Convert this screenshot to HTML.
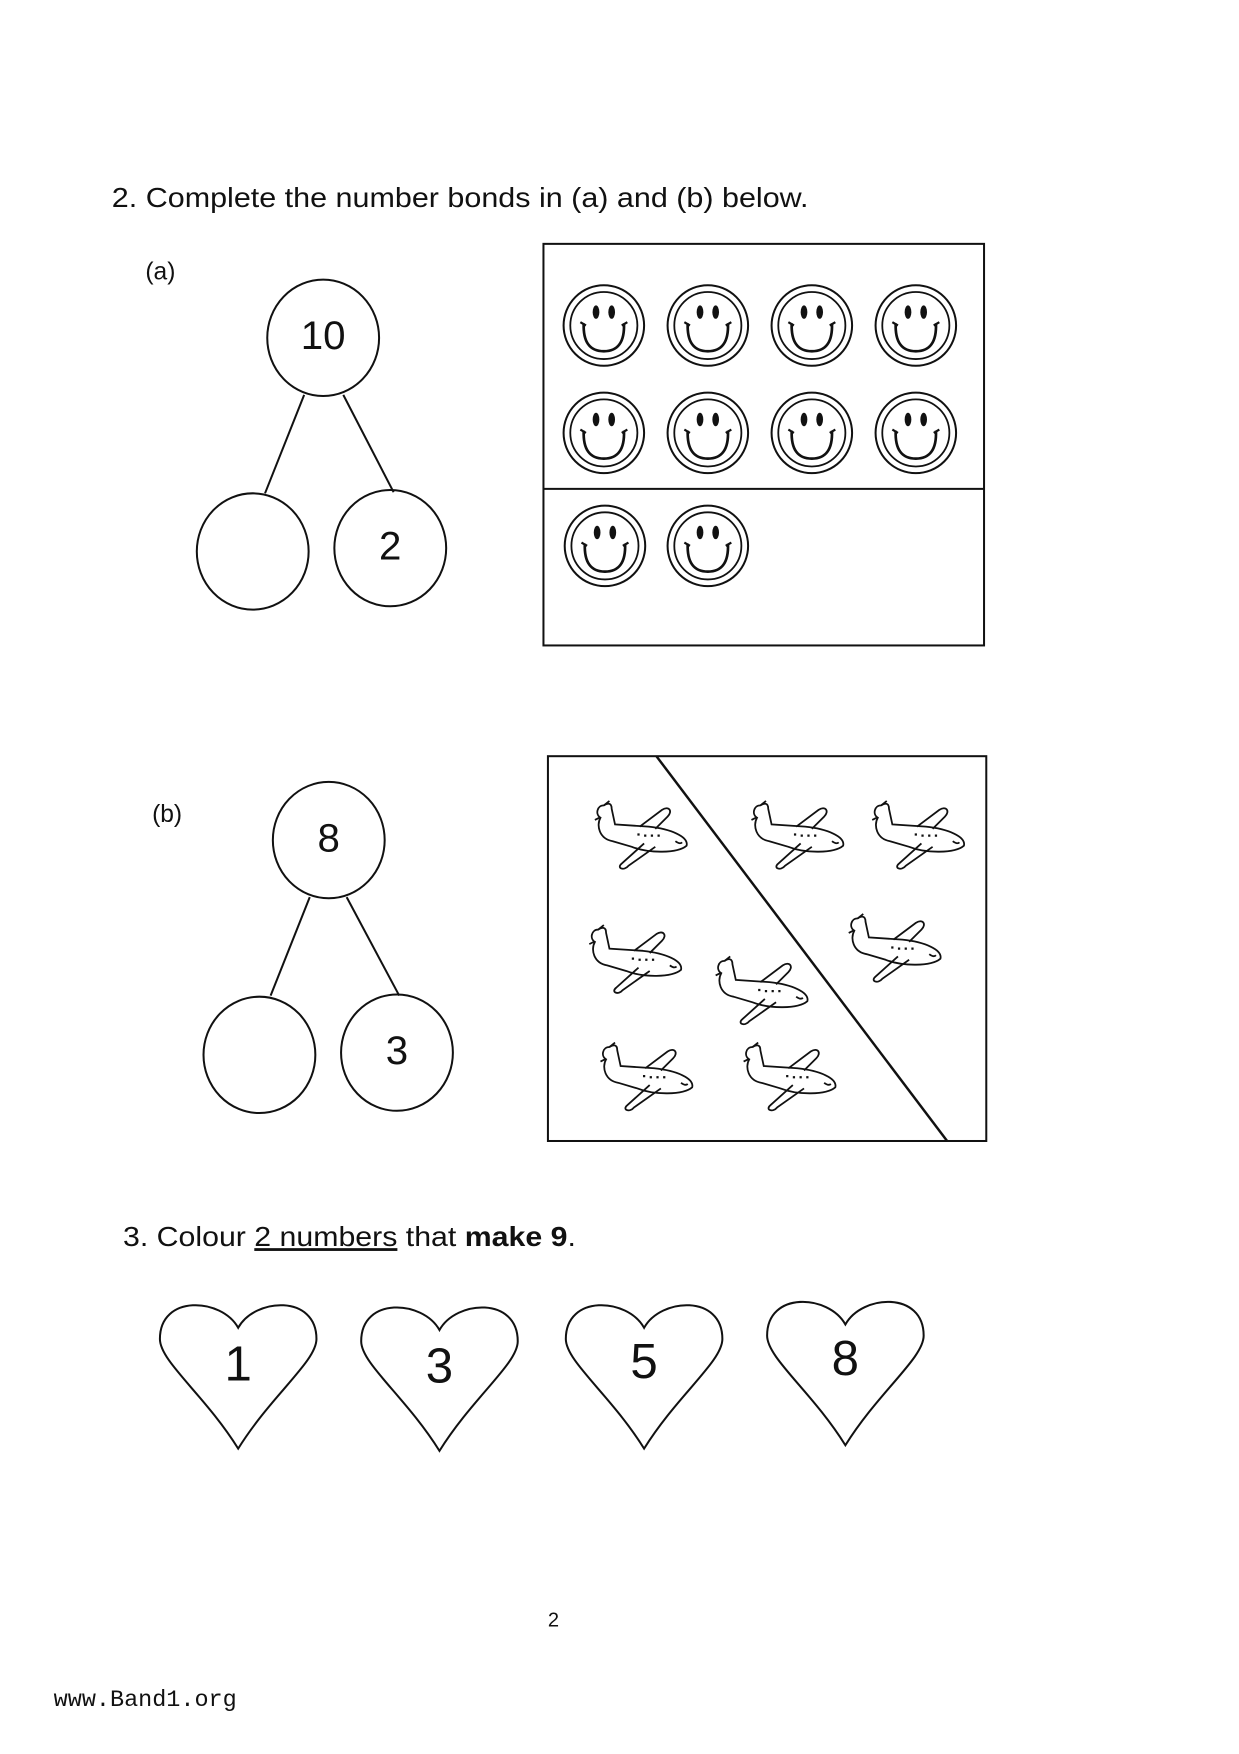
<!DOCTYPE html>
<html><head><meta charset="utf-8"><style>
html,body{margin:0;padding:0;background:#fff;}
svg{display:block;}
text{font-family:"Liberation Sans",Arial,sans-serif;fill:#111;}
</style></head><body>
<svg width="1239" height="1754" viewBox="0 0 1108 1568" preserveAspectRatio="none" xmlns="http://www.w3.org/2000/svg">
<defs>
<g id="sm">
<circle r="36" fill="none" stroke="#111" stroke-width="1.8"/>
<circle r="30" fill="none" stroke="#111" stroke-width="1.6"/>
<ellipse cx="-7" cy="-12" rx="3" ry="6" fill="#111"/>
<ellipse cx="7" cy="-12" rx="3" ry="6" fill="#111"/>
<path d="M-18,-2 Q-19,23 0,23 Q19,23 18,-2" fill="none" stroke="#111" stroke-width="2.4"/>
<path d="M-21,-3 L-16,0 M21,-3 L16,0" stroke="#111" stroke-width="2"/>
</g>
<g id="pl" fill="none" stroke="#111" stroke-width="1.6">
<path d="M-30,-24 C-36,-24 -38,-16 -33,-13 C-37,-6 -34,6 -22,8 L-5,13 C10,19 36,19 44,12 C46,4 30,-3 10,-5 L-20,-7 L-23,-21 C-23,-27 -27,-26 -30,-24 Z"/>
<path d="M2,-5 L22,-20 C28,-24 32,-19 27,-14 L16,-3"/>
<path d="M6,10 L-14,28 C-19,32 -12,35 -8,30 L16,13"/>
<path d="M-30,-24 L-25,-28 M-34,-13 L-38,-11"/>
<path d="M0,2 h2 M6,3 h2 M12,3 h2 M18,3 h2" stroke-width="2"/>
<path d="M34,8 q4,3 6,1"/>
</g>
<path id="ht" d="M0,22 C-15,-5 -70,-8 -70,32 C-70,52 -30,82 0,130 C30,82 70,52 70,32 C70,-8 15,-5 0,22 Z" fill="none" stroke="#111" stroke-width="1.8"/>
</defs>

<text x="100" y="185" font-size="25" textLength="623" lengthAdjust="spacingAndGlyphs">2. Complete the number bonds in (a) and (b) below.</text>
<text x="130" y="250" font-size="22">(a)</text>

<g fill="none" stroke="#111" stroke-width="1.8">
<ellipse cx="289" cy="302" rx="50" ry="52"/>
<ellipse cx="226" cy="493" rx="50" ry="52"/>
<ellipse cx="349" cy="490" rx="50" ry="52"/>
<line x1="272" y1="353" x2="237" y2="441"/>
<line x1="307" y1="353" x2="352" y2="440"/>
<rect x="486" y="218" width="394" height="359"/>
<line x1="486" y1="437" x2="880" y2="437"/>
</g>
<text x="289" y="312" font-size="36" text-anchor="middle">10</text>
<text x="349" y="500" font-size="36" text-anchor="middle">2</text>

<use href="#sm" x="540" y="291"/><use href="#sm" x="633" y="291"/><use href="#sm" x="726" y="291"/><use href="#sm" x="819" y="291"/>
<use href="#sm" x="540" y="387"/><use href="#sm" x="633" y="387"/><use href="#sm" x="726" y="387"/><use href="#sm" x="819" y="387"/>
<use href="#sm" x="541" y="488"/><use href="#sm" x="633" y="488"/>

<text x="136" y="735" font-size="22">(b)</text>
<g fill="none" stroke="#111" stroke-width="1.8">
<ellipse cx="294" cy="751" rx="50" ry="52"/>
<ellipse cx="232" cy="943" rx="50" ry="52"/>
<ellipse cx="355" cy="941" rx="50" ry="52"/>
<line x1="277" y1="802" x2="242" y2="890"/>
<line x1="310" y1="802" x2="357" y2="890"/>
<rect x="490" y="676" width="392" height="344"/>
<line x1="587" y1="676" x2="847" y2="1020" stroke-width="2.2"/>
</g>
<text x="294" y="761" font-size="36" text-anchor="middle">8</text>
<text x="355" y="951" font-size="36" text-anchor="middle">3</text>

<use href="#pl" x="570" y="744"/><use href="#pl" x="710" y="744"/><use href="#pl" x="818" y="744"/>
<use href="#pl" x="565" y="855"/><use href="#pl" x="797" y="845"/><use href="#pl" x="678" y="883"/>
<use href="#pl" x="575" y="960"/><use href="#pl" x="703" y="960"/>

<text x="110" y="1114" font-size="25" textLength="405" lengthAdjust="spacingAndGlyphs">3. Colour <tspan text-decoration="underline">2 numbers</tspan> that <tspan font-weight="bold">make 9</tspan>.</text>

<use href="#ht" x="213" y="1165"/><use href="#ht" x="393" y="1167"/><use href="#ht" x="576" y="1165"/><use href="#ht" x="756" y="1162"/>
<text x="213" y="1234" font-size="44" text-anchor="middle">1</text>
<text x="393" y="1236" font-size="44" text-anchor="middle">3</text>
<text x="576" y="1232" font-size="44" text-anchor="middle">5</text>
<text x="756" y="1229" font-size="44" text-anchor="middle">8</text>

<text x="495" y="1454" font-size="18" text-anchor="middle">2</text>
<text x="48" y="1525" font-size="21" style="font-family:'Liberation Mono',monospace">www.Band1.org</text>
</svg>
</body></html>
